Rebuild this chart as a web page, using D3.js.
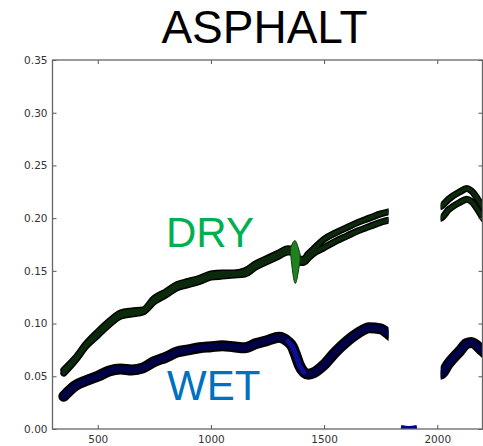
<!DOCTYPE html>
<html>
<head>
<meta charset="utf-8">
<script src="https://cdn.jsdelivr.net/npm/d3@7"></script>
<style>
    body { margin: 0; background: #fff; }
    svg { display: block; }
    .axis text { font-family: "DejaVu Sans", sans-serif; font-size: 10.5px; fill: #333; }
    .axis line { stroke: #555; stroke-width: 1; }
    .axis .domain { display: none; }
</style>
</head>
<body>
<script>
const WIDTH = 483
const HEIGHT = 446

const PLOT = {
    left: 52.5,
    right: 482.5,
    top: 60,
    bottom: 429
}

// wavelength (nm) and reflectance
const nm = [350, 400, 450, 500, 550, 600, 650, 700, 750, 800, 850, 900, 950, 1000,
    1050, 1100, 1150, 1200, 1250, 1300, 1340, 1360, 1375, 1390, 1410, 1430, 1450,
    1500, 1550, 1600, 1650, 1700, 1750, 1785,
    2015, 2050, 2100, 2130, 2150, 2200, 2210]

const dryUpper = [0.056, 0.067, 0.081, 0.092, 0.102, 0.110, 0.112, 0.113, 0.124, 0.130, 0.137, 0.140, 0.143, 0.147,
    0.148, 0.148, 0.150, 0.157, 0.162, 0.167, 0.171, 0.170, 0.166, 0.161, 0.161, 0.166, 0.170,
    0.180, 0.186, 0.191, 0.196, 0.200, 0.204, 0.206,
    0.211, 0.218, 0.225, 0.228, 0.226, 0.211, 0.208]

const dryLower = [0.053, 0.065, 0.079, 0.089, 0.099, 0.107, 0.109, 0.111, 0.121, 0.127, 0.134, 0.137, 0.140, 0.144,
    0.145, 0.146, 0.147, 0.154, 0.159, 0.164, 0.168, 0.168, 0.163, 0.158, 0.158, 0.162, 0.166,
    0.172, 0.178, 0.183, 0.188, 0.192, 0.196, 0.198,
    0.200, 0.208, 0.215, 0.218, 0.216, 0.201, 0.198]

const wet = [0.031, 0.041, 0.046, 0.050, 0.055, 0.057, 0.056, 0.058, 0.064, 0.068, 0.073, 0.075, 0.077, 0.078,
    0.079, 0.078, 0.077, 0.081, 0.084, 0.087, 0.083, 0.078, 0.070, 0.061, 0.054, 0.052, 0.053,
    0.061, 0.073, 0.083, 0.091, 0.096, 0.095, 0.090,
    0.052, 0.062, 0.074, 0.081, 0.082, 0.074, 0.072]

// noisy water band around 1375 nm on the dry spectra
const dryNoiseNm = [1352, 1362, 1372, 1382, 1394]
const dryNoiseLow = [0.166, 0.146, 0.135, 0.143, 0.160]
const dryNoiseHigh = [0.172, 0.177, 0.180, 0.175, 0.166]

// wet spectrum near zero inside the masked band
const wetGapNm = [1840, 1875, 1910]
const wetGapVal = [0.002, 0.001, 0.002]

const maskedBand = [1785, 2015]

const xTicks = [500, 1000, 1500, 2000]
const yTicks = [0, 0.05, 0.10, 0.15, 0.20, 0.25, 0.30, 0.35]

const svg = d3.select("body")
    .append("svg")
    .attr("width", WIDTH)
    .attr("height", HEIGHT)

const xScale = d3.scaleLinear()
    .domain([300, 2200])
    .range([PLOT.left, PLOT.right])

const yScale = d3.scaleLinear()
    .domain([0, 0.35])
    .range([PLOT.bottom, PLOT.top])

const defs = svg.append("defs")

const dataClip = defs.append("clipPath").attr("id", "data-clip")
dataClip.append("rect")
    .attr("x", PLOT.left)
    .attr("y", PLOT.top)
    .attr("width", xScale(maskedBand[0]) - PLOT.left)
    .attr("height", PLOT.bottom - PLOT.top)
dataClip.append("rect")
    .attr("x", xScale(maskedBand[1]))
    .attr("y", PLOT.top)
    .attr("width", PLOT.right - xScale(maskedBand[1]))
    .attr("height", PLOT.bottom - PLOT.top)

defs.append("clipPath").attr("id", "plot-clip")
    .append("rect")
    .attr("x", PLOT.left)
    .attr("y", PLOT.top)
    .attr("width", PLOT.right - PLOT.left)
    .attr("height", PLOT.bottom - PLOT.top)

const line = d3.line()
    .x(d => xScale(d[0]))
    .y(d => yScale(d[1]))
    .curve(d3.curveMonotoneX)

const series = vals => nm.map((n, i) => [n, vals[i]])

const curves = svg.append("g").attr("clip-path", "url(#data-clip)")

// dry: two overlapping spectra, black rims first then the green cores
const drySeries = [series(dryUpper), series(dryLower)]
drySeries.forEach(s => {
    curves.append("path")
        .attr("d", line(s))
        .attr("fill", "none")
        .attr("stroke", "#000")
        .attr("stroke-width", 7)
        .attr("stroke-linecap", "round")
        .attr("stroke-linejoin", "round")
})
drySeries.forEach(s => {
    curves.append("path")
        .attr("d", line(s))
        .attr("fill", "none")
        .attr("stroke", "#0b2a0b")
        .attr("stroke-width", 4)
        .attr("stroke-linecap", "round")
        .attr("stroke-linejoin", "round")
})

const noiseArea = d3.area()
    .x((d, i) => xScale(dryNoiseNm[i]))
    .y0((d, i) => yScale(dryNoiseLow[i]))
    .y1((d, i) => yScale(dryNoiseHigh[i]))
    .curve(d3.curveBasis)

curves.append("path")
    .attr("d", noiseArea(dryNoiseNm))
    .attr("fill", "#1f821f")
    .attr("stroke", "#0d3d0d")
    .attr("stroke-width", 1)

// wet
const wetSeries = series(wet)
curves.append("path")
    .attr("d", line(wetSeries))
    .attr("fill", "none")
    .attr("stroke", "#000")
    .attr("stroke-width", 11)
    .attr("stroke-linecap", "round")
    .attr("stroke-linejoin", "round")

curves.append("path")
    .attr("d", line(wetSeries))
    .attr("fill", "none")
    .attr("stroke", "#000048")
    .attr("stroke-width", 6.5)
    .attr("stroke-linecap", "round")
    .attr("stroke-linejoin", "round")

curves.append("path")
    .attr("d", line(wetSeries.filter(d => d[0] >= 1340 && d[0] <= 1410)))
    .attr("fill", "none")
    .attr("stroke", "#1a1ad0")
    .attr("stroke-width", 5)
    .attr("stroke-opacity", 0.55)
    .attr("stroke-linecap", "round")

svg.append("g")
    .attr("clip-path", "url(#plot-clip)")
    .append("path")
    .attr("d", line(wetGapNm.map((n, i) => [n, wetGapVal[i]])))
    .attr("fill", "none")
    .attr("stroke", "#0000a0")
    .attr("stroke-width", 4)

// axes, ticks point inward
svg.append("g")
    .attr("class", "axis")
    .attr("transform", "translate(0, " + PLOT.bottom + ")")
    .call(d3.axisBottom(xScale).tickValues(xTicks).tickSizeInner(-4).tickSizeOuter(0).tickPadding(7)
        .tickFormat(d3.format("d")))

svg.append("g")
    .attr("class", "axis")
    .attr("transform", "translate(0, " + PLOT.top + ")")
    .call(d3.axisTop(xScale).tickValues(xTicks).tickSizeInner(-4).tickSizeOuter(0).tickFormat(""))

svg.append("g")
    .attr("class", "axis")
    .attr("transform", "translate(" + PLOT.left + ", 0)")
    .call(d3.axisLeft(yScale).tickValues(yTicks).tickSizeInner(-4).tickSizeOuter(0).tickPadding(5)
        .tickFormat(d3.format(".2f")))

svg.append("g")
    .attr("class", "axis")
    .attr("transform", "translate(" + PLOT.right + ", 0)")
    .call(d3.axisRight(yScale).tickValues(yTicks).tickSizeInner(-4).tickSizeOuter(0).tickFormat(""))

svg.append("rect")
    .attr("x", PLOT.left)
    .attr("y", PLOT.top)
    .attr("width", PLOT.right - PLOT.left)
    .attr("height", PLOT.bottom - PLOT.top)
    .attr("fill", "none")
    .attr("stroke", "#666")
    .attr("stroke-width", 1.3)

// title and labels
svg.append("text")
    .attr("x", 264.5)
    .attr("y", 43)
    .attr("text-anchor", "middle")
    .style("font-family", "'Liberation Sans', Arial, sans-serif")
    .style("font-size", "46px")
    .style("fill", "#000")
    .text("ASPHALT")

svg.append("text")
    .attr("x", 166)
    .attr("y", 247)
    .style("font-family", "'Liberation Sans', Arial, sans-serif")
    .style("font-size", "42px")
    .style("fill", "#00b050")
    .text("DRY")

svg.append("text")
    .attr("x", 167)
    .attr("y", 400)
    .style("font-family", "'Liberation Sans', Arial, sans-serif")
    .style("font-size", "42px")
    .style("fill", "#0070c0")
    .text("WET")
</script>
</body>
</html>
